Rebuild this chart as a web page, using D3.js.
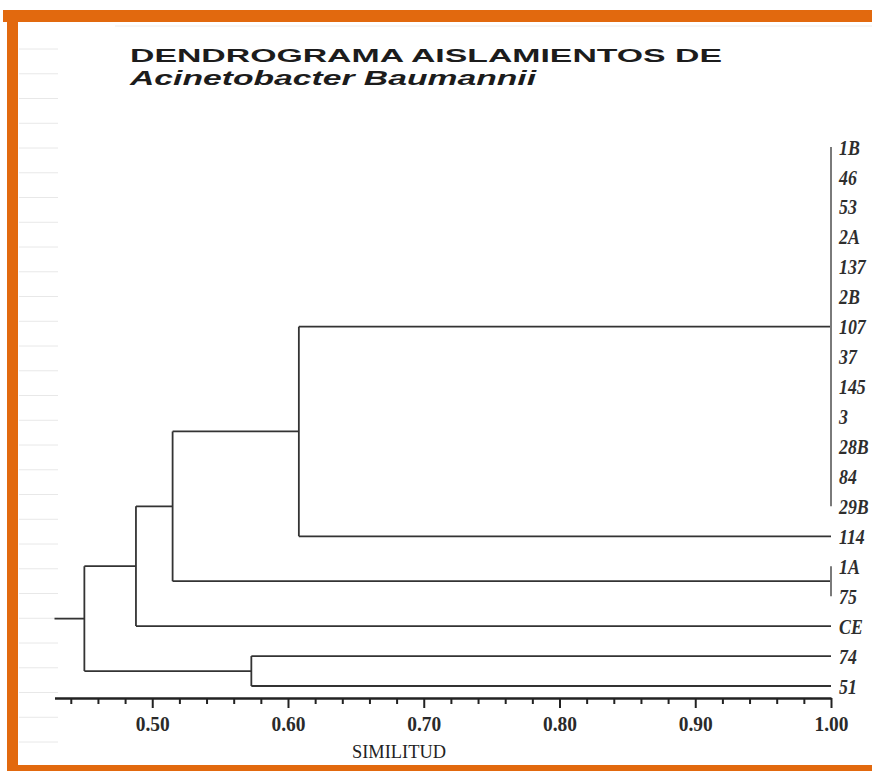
<!DOCTYPE html>
<meta charset="utf-8">
<style>
body { margin: 0; background: #fff; }
.link { fill: none; stroke: #333; stroke-width: 1.8px; }
.bar { stroke: #7a7a7a; stroke-width: 2px; }
.axis path, .axis line { stroke: #222; }
.axis text { font-family: "Liberation Serif", serif; font-weight: bold; fill: #2a2a2a; font-size: 22px; }
.leaf { font-family: "Liberation Serif", serif; font-style: italic; font-weight: bold; fill: #2e2e2e; }
</style>
<svg width="872" height="771"></svg>
<script src="https://d3js.org/d3.v7.min.js"></script>
<script>

// isolates, top to bottom
var leaves = ["1B", "46", "53", "2A", "137", "2B", "107", "37", "145", "3", "28B", "84", "29B",
              "114", "1A", "75", "CE", "74", "51"];

// clusters: id, members, similarity at which they join
var clusterIds = ["A", "B", "C", "D", "E", "F", "G"];
var clusterMembers = [
  ["1B", "46", "53", "2A", "137", "2B", "107", "37", "145", "3", "28B", "84", "29B"],
  ["1A", "75"],
  ["A", "114"],
  ["C", "B"],
  ["D", "CE"],
  ["74", "51"],
  ["E", "F"]
];
var clusterSim = [1.00, 1.00, 0.608, 0.515, 0.488, 0.573, 0.450];
var rootSim = 0.428;

var majorTicks = [0.50, 0.60, 0.70, 0.80, 0.90, 1.00];
var minorTicks = [0.44, 0.46, 0.48, 0.52, 0.54, 0.56, 0.58, 0.62, 0.64, 0.66, 0.68,
                  0.72, 0.74, 0.76, 0.78, 0.82, 0.84, 0.86, 0.88, 0.92, 0.94, 0.96, 0.98];

var svg = d3.select("svg");

// orange frame and faint ruled paper lines
var frame = svg.append("g");
frame.append("rect").attr("x", 3).attr("y", 10).attr("width", 869).attr("height", 12).attr("fill", "#e2690e");
frame.append("rect").attr("x", 7).attr("y", 10).attr("width", 11).attr("height", 761).attr("fill", "#e2690e");
frame.append("rect").attr("x", 7).attr("y", 765).attr("width", 865).attr("height", 6).attr("fill", "#e2690e");
frame.selectAll(".rule")
    .data(d3.range(49, 745, 24.75))
  .enter().append("line")
    .attr("x1", 19).attr("x2", 58)
    .attr("y1", function(d) { return d; }).attr("y2", function(d) { return d; })
    .attr("stroke", "#e8e8e8").attr("stroke-width", 1);
frame.append("line").attr("x1", 115).attr("x2", 872).attr("y1", 26).attr("y2", 26)
    .attr("stroke", "#ececec").attr("stroke-width", 1);

// title
svg.append("text")
    .attr("x", 130).attr("y", 62)
    .attr("textLength", 592).attr("lengthAdjust", "spacingAndGlyphs")
    .style("font-family", "'Liberation Sans', Arial, sans-serif")
    .style("font-weight", "bold").style("font-size", "19px").style("fill", "#1c1c1c")
    .text("DENDROGRAMA AISLAMIENTOS DE");
svg.append("text")
    .attr("x", 130).attr("y", 85)
    .attr("textLength", 406).attr("lengthAdjust", "spacingAndGlyphs")
    .style("font-family", "'Liberation Sans', Arial, sans-serif")
    .style("font-weight", "bold").style("font-style", "italic").style("font-size", "20px").style("fill", "#1c1c1c")
    .text("Acinetobacter Baumannii");

var x = d3.scaleLinear().domain([rootSim, 1.00]).range([54.5, 831]);
var y = d3.scalePoint().domain(leaves).range([147, 686]);

// build tree
var nodes = {};
leaves.forEach(function(l) { nodes[l] = { name: l, sim: 1.00, y: y(l), leaf: true }; });
clusterIds.forEach(function(id, i) {
  var kids = clusterMembers[i].map(function(m) { return nodes[m]; });
  nodes[id] = { name: id, sim: clusterSim[i], children: kids,
                y: (kids[0].y + kids[kids.length - 1].y) / 2 };
});
var root = d3.hierarchy(nodes[clusterIds[clusterIds.length - 1]]);

var g = svg.append("g");

root.descendants().forEach(function(n) {
  if (!n.children) return;
  var d = n.data, xs = x(d.sim);
  var first = n.children[0].data, last = n.children[n.children.length - 1].data;
  g.append("line")
      .attr("class", d.sim >= 1 ? "bar" : "link")
      .attr("x1", xs).attr("x2", xs)
      .attr("y1", first.y).attr("y2", last.y);
  if (d.sim >= 1) return;
  n.children.forEach(function(c) {
    g.append("line")
        .attr("class", "link")
        .attr("x1", xs).attr("x2", x(c.data.sim))
        .attr("y1", c.data.y).attr("y2", c.data.y);
  });
});

// root stub
g.append("line")
    .attr("class", "link")
    .attr("x1", x(rootSim)).attr("x2", x(root.data.sim))
    .attr("y1", root.data.y).attr("y2", root.data.y);

// leaf labels
g.selectAll(".leaf")
    .data(root.leaves())
  .enter().append("text")
    .attr("class", "leaf")
    .attr("transform", function(d) { return "translate(" + (x(1.00) + 8) + "," + d.data.y + ") scale(0.85,1)"; })
    .attr("dy", "0.36em")
    .style("font-size", "21px")
    .text(function(d) { return d.data.name; });

// axis
var axisY = 698;
svg.append("g")
    .attr("class", "axis")
    .attr("transform", "translate(0," + axisY + ")")
    .call(d3.axisBottom(x).tickValues(minorTicks).tickSize(6).tickSizeOuter(0).tickFormat(""))
    .call(function(s) { s.select(".domain").remove(); s.selectAll("line").attr("stroke-width", 2); });

var ax = svg.append("g")
    .attr("class", "axis")
    .attr("transform", "translate(0," + axisY + ")")
    .attr("font-size", 22)
    .call(d3.axisBottom(x).tickValues(majorTicks).tickSize(10).tickSizeOuter(0).tickPadding(7)
          .tickFormat(d3.format(".2f")));
ax.select(".domain").attr("stroke-width", 2.5);
ax.selectAll("line").attr("stroke-width", 2);
ax.selectAll(".tick text")
    .attr("textLength", 34).attr("lengthAdjust", "spacingAndGlyphs");

svg.append("text")
    .attr("x", 399).attr("y", 758)
    .attr("text-anchor", "middle")
    .style("font-family", "'Liberation Serif', serif")
    .style("font-size", "19px").style("fill", "#222")
    .attr("textLength", 94).attr("lengthAdjust", "spacingAndGlyphs")
    .text("SIMILITUD");

</script>
